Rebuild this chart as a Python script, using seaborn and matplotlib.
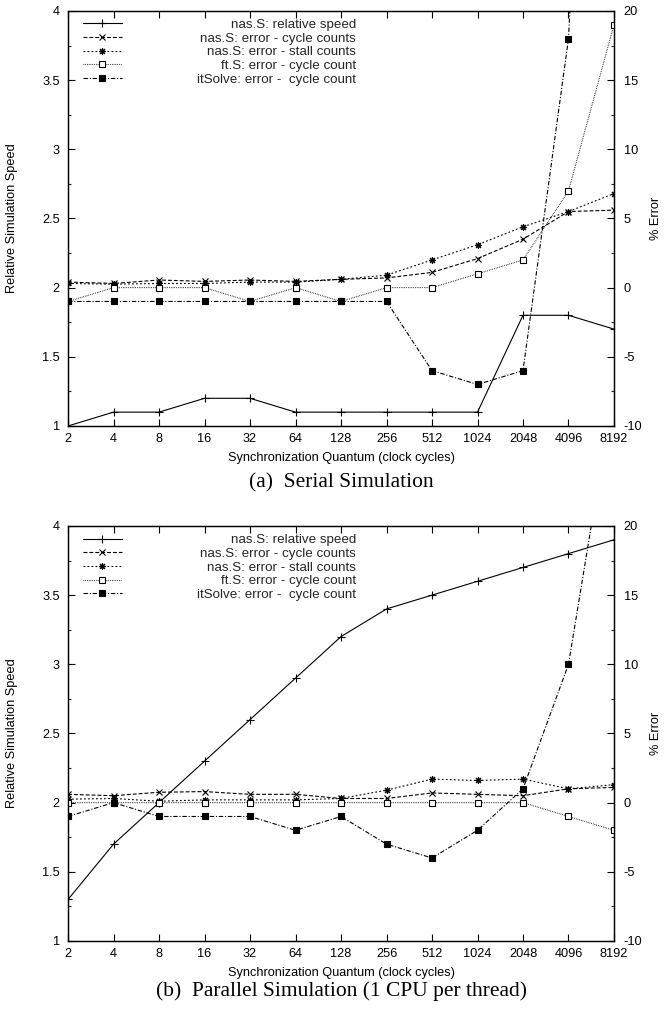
import matplotlib
matplotlib.use("Agg")
import matplotlib.pyplot as plt
from matplotlib.lines import Line2D
from matplotlib.ticker import FixedLocator, MultipleLocator, FormatStrFormatter
import seaborn as sns
import pandas as pd

# ---------------- data ----------------
quantum = [2, 4, 8, 16, 32, 64, 128, 256, 512, 1024, 2048, 4096, 8192]
quantum_labels = [str(q) for q in quantum]

# (a) serial simulation
serial_speed = [1.0, 1.1, 1.1, 1.2, 1.2, 1.1, 1.1, 1.1, 1.1, 1.1, 1.8, 1.8, 1.7]
serial_nas_cycle_err = [0.4, 0.3, 0.55, 0.45, 0.55, 0.45, 0.6, 0.7, 1.1, 2.1, 3.5, 5.5, 5.6]
serial_nas_stall_err = [0.3, 0.25, 0.3, 0.3, 0.4, 0.4, 0.6, 0.9, 2.0, 3.1, 4.4, 5.5, 6.8]
serial_ft_cycle_err = [-1, 0, 0, 0, -1, 0, -1, 0, 0, 1, 2, 7, 19]
serial_it_cycle_err = [-1, -1, -1, -1, -1, -1, -1, -1, -6, -7, -6, 18, 86]

# (b) parallel simulation
par_speed = [1.3, 1.7, 2.0, 2.3, 2.6, 2.9, 3.2, 3.4, 3.5, 3.6, 3.7, 3.8, 3.9]
par_nas_cycle_err = [0.6, 0.5, 0.75, 0.8, 0.6, 0.6, 0.3, 0.3, 0.7, 0.6, 0.5, 1.0, 1.1]
par_nas_stall_err = [0.25, 0.3, 0.1, 0.2, 0.2, 0.2, 0.3, 0.9, 1.7, 1.6, 1.7, 1.0, 1.3]
par_ft_cycle_err = [0, 0, 0, 0, 0, 0, 0, 0, 0, 0, 0, -1, -2]
par_it_cycle_err = [-1, 0, -1, -1, -1, -2, -1, -3, -4, -2, 1, 10, 30]

series_labels = [
    "nas.S: relative speed",
    "nas.S: error - cycle counts",
    "nas.S: error - stall counts",
    "ft.S: error - cycle count",
    "itSolve: error -  cycle count",
]
captions = ["(a)  Serial Simulation", "(b)  Parallel Simulation (1 CPU per thread)"]
xlabel = "Synchronization Quantum (clock cycles)"
ylabel_left = "Relative Simulation Speed"
ylabel_right = "% Error"

# ---------------- style ----------------
sns.set_theme(style="white")
plt.rcParams["font.family"] = ["Liberation Sans", "DejaVu Sans"]
plt.rcParams["axes.linewidth"] = 0.9
plt.rcParams["axes.edgecolor"] = "black"
FS = 9.2
LFS = 9.6

styles = [
    dict(linestyle="-", marker="+", markersize=6, mfc="black"),
    dict(linestyle=(0, (3.5, 1.8)), marker="x", markersize=4.5, mfc="black"),
    dict(linestyle=(0, (1.6, 2.0)), marker=(8, 2, 0), markersize=5.0, mfc="black"),
    dict(linestyle=(0, (0.6, 1.0)), marker="s", markersize=4.0, mfc="white"),
    dict(linestyle=(0, (4.0, 1.6, 1.0, 1.6)), marker="s", markersize=4.2, mfc="black"),
]

fig = plt.figure(figsize=(6.65, 10.13), dpi=100)
axes_rects = [[0.1023, 0.5795, 0.821, 0.4097], [0.1023, 0.0711, 0.821, 0.4097]]

panels = [
    (serial_speed, [serial_nas_cycle_err, serial_nas_stall_err, serial_ft_cycle_err, serial_it_cycle_err]),
    (par_speed, [par_nas_cycle_err, par_nas_stall_err, par_ft_cycle_err, par_it_cycle_err]),
]

for i, (speed, errs) in enumerate(panels):
    ax = fig.add_axes(axes_rects[i])
    ax2 = ax.twinx()
    handles = []
    df = pd.DataFrame({"q": quantum, "v": speed})
    sns.lineplot(data=df, x="q", y="v", ax=ax, color="black", lw=0.8,
                 markeredgecolor="black", markeredgewidth=0.8, **styles[0])
    handles.append(ax.lines[-1])
    for j, err in enumerate(errs):
        d = pd.DataFrame({"q": quantum, "v": err})
        sns.lineplot(data=d, x="q", y="v", ax=ax2, color="black", lw=0.8,
                     markeredgecolor="black", markeredgewidth=0.8, **styles[j + 1])
        handles.append(ax2.lines[-1])

    for a in (ax, ax2):
        a.set_xscale("log", base=2)
        a.set_xlim(2, 8192)
    ax.set_xticks(quantum)
    ax.set_xticklabels(quantum_labels)
    ax.xaxis.set_minor_locator(FixedLocator([]))
    ax.set_ylim(1, 4)
    ax2.set_ylim(-10, 20)
    ax.yaxis.set_major_locator(MultipleLocator(0.5))
    ax.yaxis.set_minor_locator(MultipleLocator(0.25))
    ax.yaxis.set_major_formatter(FormatStrFormatter("%g"))
    ax2.yaxis.set_major_locator(MultipleLocator(5))
    ax2.yaxis.set_minor_locator(MultipleLocator(2.5))
    ax2.yaxis.set_major_formatter(FormatStrFormatter("%g"))

    ax.tick_params(axis="x", which="major", direction="in", top=True, bottom=True,
                   length=5, width=0.8, labelsize=FS, pad=5, colors="black")
    ax.tick_params(axis="y", which="major", direction="in", left=True, right=False,
                   length=5, width=0.8, labelsize=FS, pad=6, colors="black")
    ax.tick_params(axis="y", which="minor", direction="in", left=True, right=False,
                   length=2.5, width=0.8)
    ax2.tick_params(axis="y", which="major", direction="in", right=True, left=False,
                    length=5, width=0.8, labelsize=FS, pad=7, colors="black")
    ax2.tick_params(axis="y", which="minor", direction="in", right=True, left=False,
                    length=2.5, width=0.8)
    ax2.tick_params(axis="x", which="both", top=False, bottom=False, labeltop=False, labelbottom=False)

    ax.set_xlabel(xlabel, fontsize=FS, color="black")
    ax.set_ylabel(ylabel_left, fontsize=FS, color="black")
    ax2.set_ylabel(ylabel_right, fontsize=FS, color="black")
    ax.xaxis.set_label_coords(0.5, -0.063)
    ax.yaxis.set_label_coords(-0.092, 0.5)
    ax2.yaxis.set_label_coords(1.066, 0.5)

    # legend: handles at left, labels right-aligned (gnuplot style)
    legA = ax2.legend(handles, [""] * len(handles), loc="upper left",
                      bbox_to_anchor=(0.0275, 0.981), frameon=False, fontsize=LFS,
                      borderpad=0, borderaxespad=0, handlelength=2.9,
                      handletextpad=0, labelspacing=0.1)
    ax2.add_artist(legA)
    blank = [Line2D([], [], linestyle="none", marker="") for _ in handles]
    ax2.legend(blank, series_labels, loc="upper right", markerfirst=False,
               bbox_to_anchor=(0.5275, 0.981), frameon=False, fontsize=LFS,
               borderpad=0, borderaxespad=0, handlelength=0, handletextpad=0,
               labelspacing=0.1)

    for s in ax.spines.values():
        s.set_visible(True)
        s.set_color("black")

    cap_y = [0.5232, 0.0217][i]
    fig.text(0.5128, cap_y, captions[i], ha="center", va="center",
             fontsize=15.5, family=["Liberation Serif", "DejaVu Serif"], color="black")

fig.savefig("out.png", dpi=100, facecolor="white")
